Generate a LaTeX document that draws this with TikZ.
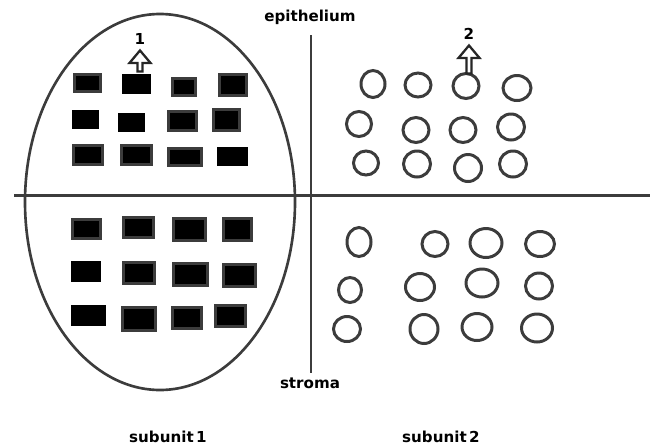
\documentclass[tikz,border=0pt]{standalone}
\usepackage{fontspec}
\setsansfont{DejaVu Sans}
\usepackage{tikz}
\usetikzlibrary{positioning, shapes.geometric, shapes.arrows}
\definecolor{lgray}{RGB}{60, 60, 60}
\newcommand{\pxu}{0.02cm}
\tikzset{
  border/.style={draw=lgray, line width=1.7pt},
  cell/.style={fill=black, line width=1.7pt, inner sep=0pt},
  vesicle/.style={ellipse, draw=lgray, line width=1.7pt, inner sep=0pt},
  uparrow/.style={
    single arrow, shape border rotate=90, draw=black!85, fill=white,
    line width=1.3pt, inner sep=0pt,
    minimum width=21*\pxu, single arrow head extend=3.5*\pxu,
    single arrow tip angle=80,
  },
  lbl/.style={font=\sffamily\bfseries\fontsize{8.6}{10}\selectfont, inner sep=0pt},
  num/.style={font=\sffamily\bfseries\fontsize{8.6}{10}\selectfont, inner sep=0pt},
}

\begin{document}
\begin{tikzpicture}[x=0.02cm, y=-0.02cm]

\useasboundingbox (0,0) rectangle (656,444);

% subunit 1 outline
\node[ellipse, draw=lgray, line width=1.5pt, minimum width=270*\pxu,
      minimum height=376*\pxu] (sub1) at (160,202) {};

% axes
\coordinate (hl) at (14,195);
\coordinate (hr) at (650,195);
\coordinate (vt) at (311,35);
\coordinate (vb) at (311,373);
\draw[border] (hl) -- (hr);
\draw[border] (vt) -- (vb);

\node[lbl] (epi) at (310,17) {epithelium};
\node[lbl] (str) at (310,383) {stroma};
\node[lbl] (lab1) at (168,437) {subunit\,1};
\node[lbl] (lab2) at (441,437) {subunit\,2};

% cells of subunit 1
\foreach \n/\x/\y/\w/\h/\c in {
  a1/87.5/83/29/20/lgray, a2/136.5/84/29/20/black, a3/184/87/26/20/lgray,
  a4/233/85/30/24/lgray,
  b1/85.5/119.5/27/19/black, b2/131.5/122.5/27/19/black,
  b3/182.5/121/31/22/lgray, b4/226.5/120/29/24/lgray,
  c1/88/155/32/22/lgray, c2/136.5/155/33/22/lgray, c3/185/157/36/20/lgray,
  c4/232.5/156.5/31/19/black,
  d1/86.5/229/31/22/lgray, d2/138.5/227.5/33/23/lgray,
  d3/189.5/229.5/35/25/lgray, d4/237.5/229.5/31/25/lgray,
  e1/86/271.5/30/21/black, e2/139/273/34/24/lgray, e3/190.5/274.5/37/25/lgray,
  e4/239.5/275.5/35/25/lgray,
  f1/88.5/315.5/35/21/black, f2/139/319/36/26/lgray, f3/187/318/32/24/lgray,
  f4/230.5/316/33/24/lgray}
  \node[cell, draw=\c, minimum width={(\w-3)*\pxu},
        minimum height={(\h-3)*\pxu}] (\n) at (\x,\y) {};

% vesicles of subunit 2
\foreach \n/\x/\y/\w/\h in {
  p1/373/84/27/30, p2/418/85/29/27, p3/466/86/29/28, p4/517/88/31/28,
  q1/359/124/28/28, q2/416/130/29/28, q3/463/130/29/28, q4/511/127/30/29,
  s1/366/163/28/27, s2/417/164/30/29, s3/468/168/30/30, s4/513/164/30/29,
  t1/359/242/27/32, t2/435/244/29/28, t3/486/243/35/32, t4/540/244/32/28,
  u1/350/290/26/28, u2/420/287/32/30, u3/482/283/35/31, u4/539/286/30/29,
  w1/347/329/30/28, w2/424/329/31/32, w3/477/327/33/30, w4/537/328/34/31}
  \node[vesicle, minimum width={(\w-3)*\pxu},
        minimum height={(\h-3)*\pxu}] (\n) at (\x,\y) {};

% markers
\node[uparrow, minimum height=21*\pxu] (arr1) at (140,62.5) {};
\node[uparrow, minimum height=28*\pxu] (arr2) at (469,61) {};
\node[num, above=2pt of arr1] (n1) {1};
\node[num, above=2pt of arr2] (n2) {2};

\end{tikzpicture}
\end{document}
